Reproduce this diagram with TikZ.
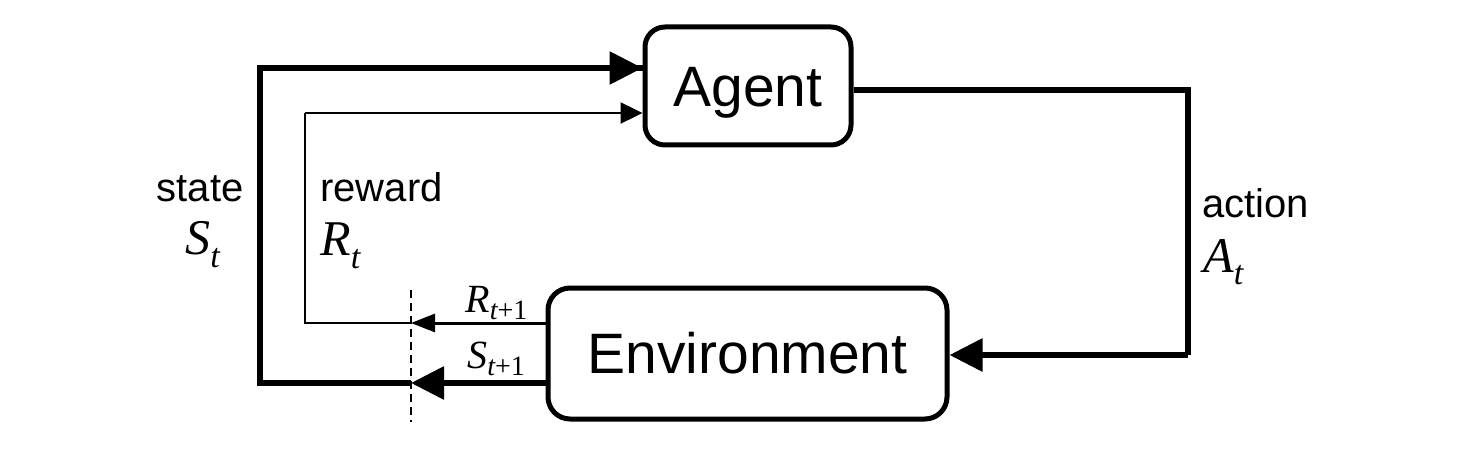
\documentclass[tikz,border=0pt]{standalone}
\usepackage{fontspec}
\setmainfont{Liberation Sans}
\newfontfamily\tms{Liberation Serif}
\usetikzlibrary{arrows.meta}
% #1 letter, #2 subscript, #3 main size, #4 sub size, #5 drop
\newcommand\isub[5]{{\fontsize{#3}{#3}\selectfont\tms\itshape #1}\raisebox{-#5}{\fontsize{#4}{#4}\selectfont\tms #2}}
\begin{document}
\begin{tikzpicture}[x=0.5pt,y=-0.5pt,
  box/.style={draw,line width=2.5pt,rounded corners=10pt,fill=white,font=\fontsize{28.5}{30}\selectfont,inner sep=0pt,text height=20.4pt,text depth=0pt},
  thickline/.style={line width=3pt},
  thinline/.style={line width=1.2pt},
  thickarrow/.style={thickline,-{Triangle[length=16.5pt,width=16pt]}},
  thinarrow/.style={thinline,-{Triangle[length=11pt,width=10.5pt]}},
  midarrow/.style={line width=1.5pt,-{Triangle[length=12pt,width=9pt]}},
  lab/.style={font=\fontsize{20}{22}\selectfont,inner sep=0pt,anchor=base},
  mlab/.style={inner sep=0pt,anchor=base west}
]
\useasboundingbox (0,0) rectangle (1463,449);
\node[box,minimum width=103pt,minimum height=59pt] (agent) at (748,86) {Agent};
\node[box,minimum width=199.5pt,minimum height=65.5pt,rounded corners=11pt] (env) at (747.5,353.5) {Environment};
% coordinates
\coordinate (dtop) at (411,290);
\coordinate (dbot) at (411,422);
\coordinate (sy) at (411,383);
\coordinate (ry) at (411,323);
\coordinate (s1) at (260,383);
\coordinate (s2) at (260,68);
\coordinate (r1) at (305,323);
\coordinate (r2) at (305,113);
\coordinate (a1) at (1188,90);
\coordinate (a2) at (1188,355);
% dashed line
\draw[line width=1.2pt,dash pattern=on 4pt off 2.5pt] (dtop) -- (dbot);
% state loop
\draw[thickarrow] (env.west |- sy) -- (sy);
\draw[thickline] (sy) -- (s1) -- (s2) -- (s2 -| agent.west);
\draw[thickarrow] (s1 |- s2) -- (s2 -| agent.west);
% reward loop
\draw[midarrow] (env.west |- ry) -- (ry);
\draw[thinline] (ry) -- (r1) -- (r2);
\draw[thinarrow] (r2) -- (r2 -| agent.west);
% action loop
\draw[thickline] (agent.east |- a1) -- (a1) -- (a2);
\draw[thickarrow] (a2) -- (a2 -| env.east);
% labels
\node[lab] (state) at (200,202) {state};
\node[mlab] (St) at (185,255) {\isub{S}{\itshape t}{25}{17}{6pt}};
\node[lab,anchor=base west] (reward) at (320,202) {reward};
\node[mlab] (Rt) at (320,256) {\isub{R}{\itshape t}{25}{17}{6pt}};
\node[lab,anchor=base west] (action) at (1202,218) {action};
\node[mlab] (At) at (1203,272) {\isub{A}{\itshape t}{25}{17}{6pt}};
\node[mlab] (Rt1) at (465,312) {\isub{R}{{\itshape t}+1}{20}{14}{3.5pt}};
\node[mlab] (St1) at (467,368) {\isub{S}{{\itshape t}+1}{20}{14}{3.5pt}};
\end{tikzpicture}
\end{document}
